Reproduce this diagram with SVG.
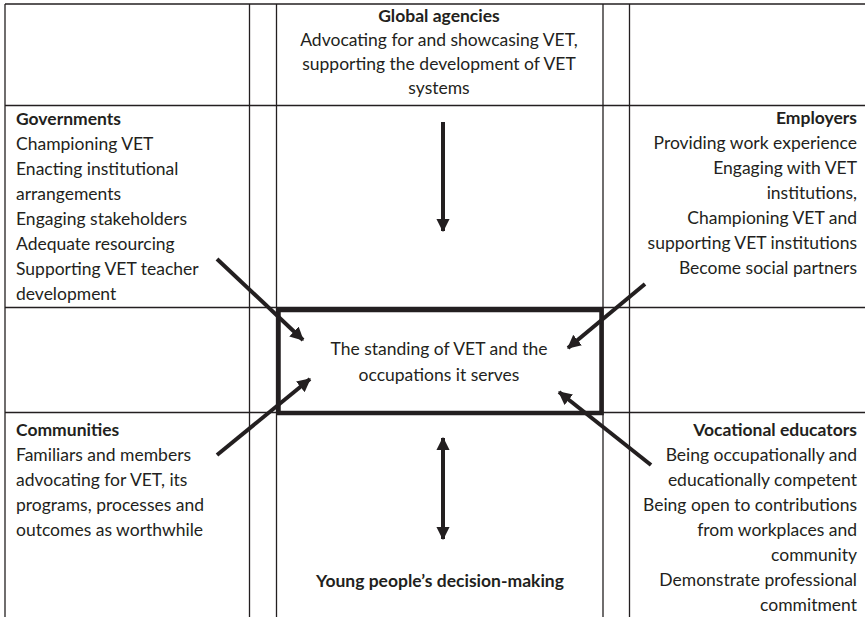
<svg xmlns="http://www.w3.org/2000/svg" width="865" height="617" viewBox="0 0 865 617">
  <style>
    .grid { stroke: #231f20; stroke-width: 1.3; fill: none; }
    .box { stroke: #231f20; stroke-width: 4.5; fill: none; }
    .arrow { stroke: #231f20; stroke-width: 4; fill: none; }
    text { font-family: Lato, "Open Sans", sans-serif; font-size: 17.5px; fill: #231f20; }
    .b { font-weight: bold; }
    .l { text-anchor: start; }
    .m { text-anchor: middle; }
    .r { text-anchor: end; }
  </style>
  <defs>
    <marker id="head" viewBox="0 0 12 12" refX="11" refY="6" markerWidth="3.4" markerHeight="3.4" markerUnits="strokeWidth" orient="auto-start-reverse">
      <path d="M0,0 L12,6 L0,12 Z" fill="#231f20"/>
    </marker>
  </defs>
  <rect width="865" height="617" fill="#ffffff"/>

  <!-- table rules -->
  <g id="grid" class="grid">
    <line x1="5" y1="4" x2="865" y2="4"/>
    <line x1="5" y1="105.5" x2="865" y2="105.5"/>
    <line x1="5" y1="307.5" x2="865" y2="307.5"/>
    <line x1="5" y1="412.5" x2="865" y2="412.5"/>
    <line x1="5" y1="4" x2="5" y2="617"/>
    <line x1="249.5" y1="4" x2="249.5" y2="617"/>
    <line x1="276.5" y1="4" x2="276.5" y2="617"/>
    <line x1="603" y1="4" x2="603" y2="617"/>
    <line x1="629.5" y1="4" x2="629.5" y2="617"/>
  </g>

  <g id="global-agencies">
    <text class="m b" x="439" y="22">Global agencies</text>
    <text class="m" x="439" y="46">Advocating for and showcasing VET,</text>
    <text class="m" x="439" y="70">supporting the development of VET</text>
    <text class="m" x="439" y="94">systems</text>
  </g>

  <g id="governments">
    <text class="l b" x="16" y="125">Governments</text>
    <text class="l" x="16" y="150">Championing VET</text>
    <text class="l" x="16" y="175">Enacting institutional</text>
    <text class="l" x="16" y="200">arrangements</text>
    <text class="l" x="16" y="225">Engaging stakeholders</text>
    <text class="l" x="16" y="250">Adequate resourcing</text>
    <text class="l" x="16" y="275">Supporting VET teacher</text>
    <text class="l" x="16" y="300">development</text>
  </g>

  <g id="employers">
    <text class="r b" x="857" y="124">Employers</text>
    <text class="r" x="857" y="149">Providing work experience</text>
    <text class="r" x="857" y="174">Engaging with VET</text>
    <text class="r" x="857" y="199">institutions,</text>
    <text class="r" x="857" y="224">Championing VET and</text>
    <text class="r" x="857" y="249">supporting VET institutions</text>
    <text class="r" x="857" y="274">Become social partners</text>
  </g>

  <g id="standing">
    <rect class="box" x="278.5" y="310" width="323" height="103"/>
    <text class="m" x="439" y="355">The standing of VET and the</text>
    <text class="m" x="439" y="381">occupations it serves</text>
  </g>

  <g id="communities">
    <text class="l b" x="16" y="436">Communities</text>
    <text class="l" x="16" y="461">Familiars and members</text>
    <text class="l" x="16" y="486">advocating for VET, its</text>
    <text class="l" x="16" y="511">programs, processes and</text>
    <text class="l" x="16" y="536">outcomes as worthwhile</text>
  </g>

  <g id="vocational-educators">
    <text class="r b" x="857" y="436">Vocational educators</text>
    <text class="r" x="857" y="461">Being occupationally and</text>
    <text class="r" x="857" y="486">educationally competent</text>
    <text class="r" x="857" y="511">Being open to contributions</text>
    <text class="r" x="857" y="536">from workplaces and</text>
    <text class="r" x="857" y="561">community</text>
    <text class="r" x="857" y="586">Demonstrate professional</text>
    <text class="r" x="857" y="611">commitment</text>
  </g>

  <g id="young-people">
    <text class="m b" x="440" y="587">Young people’s decision-making</text>
  </g>

  <!-- influences on the standing of VET -->
  <g id="connectors" class="arrow">
    <line x1="443" y1="122" x2="443" y2="231" marker-end="url(#head)"/>
    <line x1="443" y1="438" x2="443" y2="539" marker-start="url(#head)" marker-end="url(#head)"/>
    <line x1="217" y1="259" x2="303" y2="340" marker-end="url(#head)"/>
    <line x1="217" y1="455" x2="310" y2="379" marker-end="url(#head)"/>
    <line x1="645" y1="284" x2="568" y2="348" marker-end="url(#head)"/>
    <line x1="651" y1="465" x2="559" y2="392" marker-end="url(#head)"/>
  </g>
</svg>
